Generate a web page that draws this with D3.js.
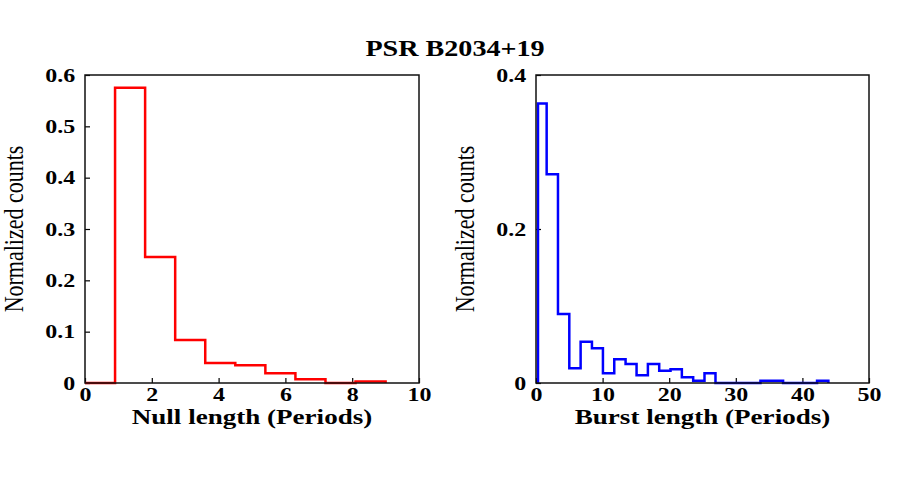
<!DOCTYPE html>
<html>
<head>
    <meta charset="utf-8" />
    <title>PSR B2034+19</title>
    <script src="https://d3js.org/d3.v7.min.js"></script>
    <style>
        body {
            margin: 0;
            background: #ffffff;
        }

        text {
            font-family: "Liberation Serif", "Times New Roman", serif;
            fill: #000000;
        }

        .axis path {
            display: none;
        }

        .axis line {
            stroke: #000000;
            stroke-width: 1.2px;
        }

        .axis text {
            font-size: 19.5px;
            font-weight: bold;
        }

        .hist {
            fill: none;
            stroke-width: 2.5px;
        }
    </style>
</head>

<body>
    <svg id="chart" width="900" height="485"></svg>

    <script>
        // null length histogram (bin edges in periods, normalized counts)
        var nullEdges = [0, 0.9, 1.8, 2.7, 3.6, 4.5, 5.4, 6.3, 7.2, 8.1, 9.0];
        var nullCounts = [0, 0.575, 0.2455, 0.084, 0.039, 0.0345, 0.019, 0.0072, 0, 0.003];

        // burst length histogram
        var burstEdges = [0.3, 1.6, 3.3, 5.0, 6.7, 8.4, 10.05, 11.75, 13.45, 15.1, 16.8, 18.5, 20.2,
            21.9, 23.6, 25.3, 26.95, 28.6, 30.3, 32.0, 33.7, 35.4, 37.1, 38.8, 40.5, 42.2, 43.9];
        var burstCounts = [0.363, 0.271, 0.0896, 0.019, 0.0536, 0.045, 0.0126, 0.031, 0.0247, 0.01,
            0.0247, 0.016, 0.018, 0.0074, 0.003, 0.0126, 0, 0, 0, 0, 0.003, 0.003, 0, 0, 0, 0.003];

        var nullXTicks = [0, 2, 4, 6, 8, 10];
        var nullYTicks = [0, 0.1, 0.2, 0.3, 0.4, 0.5, 0.6];
        var burstXTicks = [0, 10, 20, 30, 40, 50];
        var burstYTicks = [0, 0.2, 0.4];

        var stretch = 1.23; // text in the original is drawn wider than it is tall

        var svg = d3.select("#chart");

        svg.append("text")
            .attr("transform", "translate(455,56) scale(" + (stretch + 0.02) + ",1)")
            .attr("text-anchor", "middle")
            .attr("font-size", "22.5px")
            .attr("font-weight", "bold")
            .text("PSR B2034+19");

        drawPanel({
            left: 85,
            top: 75,
            width: 334,
            height: 308,
            xDomain: [0, 10],
            yDomain: [0, 0.6],
            xTicks: nullXTicks,
            yTicks: nullYTicks,
            edges: nullEdges,
            counts: nullCounts,
            color: "#ff0000",
            xLabel: "Null length (Periods)"
        });

        drawPanel({
            left: 536,
            top: 75,
            width: 333,
            height: 308,
            xDomain: [0, 50],
            yDomain: [0, 0.4],
            xTicks: burstXTicks,
            yTicks: burstYTicks,
            edges: burstEdges,
            counts: burstCounts,
            color: "#0000ff",
            xLabel: "Burst length (Periods)"
        });

        function drawPanel(p) {
            var g = svg.append("g")
                .attr("transform", "translate(" + p.left + "," + p.top + ")");

            var x = d3.scaleLinear().domain(p.xDomain).range([0, p.width]);
            var y = d3.scaleLinear().domain(p.yDomain).range([p.height, 0]);

            var xAxis = d3.axisBottom(x)
                .tickValues(p.xTicks)
                .tickSizeInner(-5)
                .tickSizeOuter(0)
                .tickPadding(4)
                .tickFormat(d3.format("d"));

            var yAxis = d3.axisLeft(y)
                .tickValues(p.yTicks)
                .tickSizeInner(-5)
                .tickSizeOuter(0)
                .tickPadding(8)
                .tickFormat(function(d) {
                    return d === 0 ? "0" : d3.format(".1f")(d);
                });

            g.append("g")
                .attr("class", "x axis")
                .attr("transform", "translate(0," + p.height + ")")
                .call(xAxis)
                .selectAll("text")
                .attr("transform", "scale(" + stretch + ",1)");

            g.append("g")
                .attr("class", "y axis")
                .call(yAxis)
                .selectAll("text")
                .attr("transform", "scale(" + stretch + ",1)");

            // step outline of the histogram
            var pts = p.counts.map(function(c, i) {
                return [p.edges[i], c];
            });
            var last = p.edges[p.edges.length - 1];
            pts.unshift([p.edges[0], 0]);
            pts.push([last, p.counts[p.counts.length - 1]]);
            pts.push([last, 0]);

            var line = d3.line()
                .x(function(d) {
                    return x(d[0]);
                })
                .y(function(d) {
                    return y(d[1]);
                })
                .curve(d3.curveStepAfter);

            g.append("path")
                .datum(pts)
                .attr("class", "hist")
                .attr("stroke", p.color)
                .attr("d", line);

            // frame
            g.append("rect")
                .attr("width", p.width)
                .attr("height", p.height)
                .attr("fill", "none")
                .attr("stroke", "#111111")
                .attr("stroke-width", 1.5);

            g.append("text")
                .attr("transform", "translate(" + (p.width / 2) + "," + (p.height + 41) + ") scale(" + stretch + ",1)")
                .attr("text-anchor", "middle")
                .attr("font-size", "22px")
                .attr("font-weight", "bold")
                .text(p.xLabel);

            g.append("text")
                .attr("transform", "translate(-62," + (p.height / 2) + ") scale(" + stretch + ",1) rotate(-90)")
                .attr("text-anchor", "middle")
                .attr("font-size", "22px")
                .text("Normalized counts");
        }
    </script>
</body>
</html>
